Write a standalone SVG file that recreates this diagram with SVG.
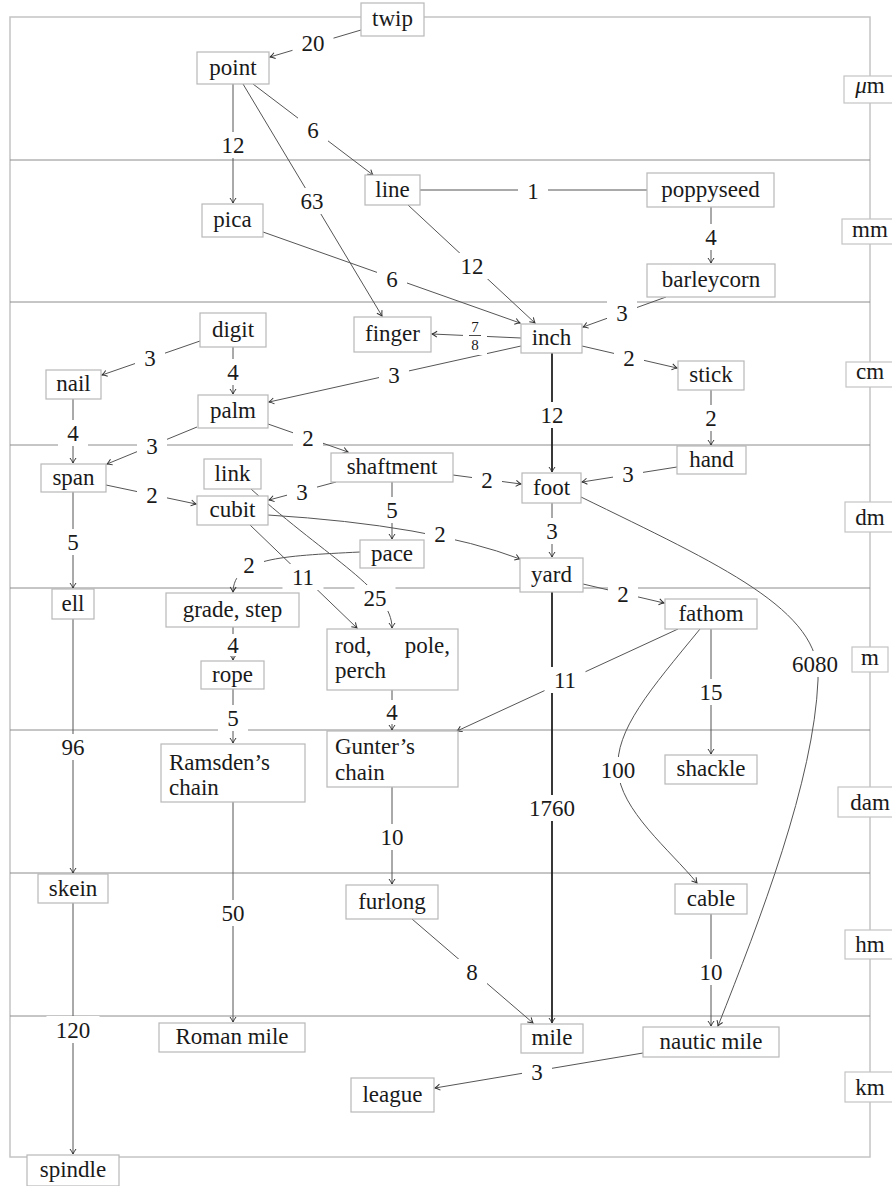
<svg xmlns="http://www.w3.org/2000/svg" width="892" height="1186" viewBox="0 0 892 1186">
<style>
.frame{fill:none;stroke:#c4c4c4;stroke-width:1.5}
.band{stroke:#8c8c8c;stroke-width:1}
.nd rect{fill:#fff;stroke:#b8b8b8;stroke-width:1.2}
.nd text,.lb text,.un text{font-family:"Liberation Serif","DejaVu Serif",serif;font-size:23px;fill:#1a1a1a;text-anchor:middle}
.nd text.l{text-anchor:start}
.nd text.r{text-anchor:end}
.un rect{fill:#fff;stroke:#c4c4c4;stroke-width:1.2}
.e{fill:none;stroke:#555;stroke-width:1;marker-end:url(#arr)}
.e.thick{stroke:#222;stroke-width:1.8}
.e.plain{marker-end:none}
.lb rect{fill:#fff}
</style>
<defs>
<marker id="arr" viewBox="-6 -4 7 8" refX="0" refY="0" markerWidth="7" markerHeight="8" markerUnits="userSpaceOnUse" orient="auto">
<path d="M-5,-3 Q-2,-0.8 0,0 Q-2,0.8 -5,3" fill="none" stroke="#333" stroke-width="1"/>
</marker>
</defs>
<rect width="892" height="1186" fill="#fff"/>
<g id="frame">
<rect class="frame" x="10" y="17" width="860" height="1140"/>
<line class="band" x1="10" y1="160" x2="870" y2="160"/>
<line class="band" x1="10" y1="302" x2="870" y2="302"/>
<line class="band" x1="10" y1="445" x2="870" y2="445"/>
<line class="band" x1="10" y1="588" x2="870" y2="588"/>
<line class="band" x1="10" y1="730" x2="870" y2="730"/>
<line class="band" x1="10" y1="873" x2="870" y2="873"/>
<line class="band" x1="10" y1="1016" x2="870" y2="1016"/>
</g>
<g id="connectors">
<path class="e" d="M361,30 L270,57"/>
<path class="e" d="M233,84 L233,203"/>
<path class="e" d="M253,84 L373,175"/>
<path class="e" d="M243,84 L382,316"/>
<path class="e plain" d="M420,190 L647,190"/>
<path class="e" d="M408,205 L535,323"/>
<path class="e" d="M263,232 L520,323"/>
<path class="e" d="M711,207 L711,263"/>
<path class="e" d="M666,297 L583,327"/>
<path class="e" d="M521,338 L432,334"/>
<path class="e" d="M200,341 L102,375"/>
<path class="e" d="M233,347 L233,394"/>
<path class="e" d="M521,346 L269,402"/>
<path class="e" d="M582,346 L677,368"/>
<path class="e thick" d="M552,353 L552,472"/>
<path class="e" d="M711,390 L711,445"/>
<path class="e" d="M73,399 L73,463"/>
<path class="e" d="M197,427 L107,464"/>
<path class="e" d="M268,424 L348,452"/>
<path class="e" d="M677,467 L582,482"/>
<path class="e" d="M453,475 L521,484"/>
<path class="e" d="M336,482 L269,500"/>
<path class="e" d="M106,485 L196,504"/>
<path class="e" d="M73,492 L73,588"/>
<path class="e" d="M392,482 L392,539"/>
<path class="e" d="M552,503 L552,557"/>
<path class="e" d="M268,515 Q430,525 520,559"/>
<path class="e" d="M581,497 C720,565 822,610 818,680 C814,780 760,920 718,1026"/>
<path class="e" d="M360,552 C280,556 234,558 233,592"/>
<path class="e" d="M250,525 L357,628"/>
<path class="e" d="M251,489 C330,560 392,590 392,628"/>
<path class="e" d="M233,627 L233,660"/>
<path class="e" d="M233,689 L233,743"/>
<path class="e" d="M392,690 L392,730"/>
<path class="e" d="M583,584 L664,603"/>
<path class="e" d="M678,629 L457,731"/>
<path class="e" d="M711,629 L711,754"/>
<path class="e" d="M700,629 C650,690 615,730 618,770 C620,810 670,850 697,883"/>
<path class="e thick" d="M552,592 L552,1023"/>
<path class="e" d="M73,619 L73,873"/>
<path class="e" d="M233,802 L233,1022"/>
<path class="e" d="M392,787 L392,884"/>
<path class="e" d="M73,903 L73,1154"/>
<path class="e" d="M412,919 L533,1023"/>
<path class="e" d="M711,914 L711,1026"/>
<path class="e" d="M643,1053 L435,1088"/>
<g class="lb">
<rect x="292.5" y="30" width="41" height="26"/><text x="313" y="51">20</text>
<rect x="212.5" y="132" width="41" height="26"/><text x="233" y="153">12</text>
<rect x="298" y="117" width="30" height="26"/><text x="313" y="138">6</text>
<rect x="291.5" y="188" width="41" height="26"/><text x="312" y="209">63</text>
<rect x="518" y="178" width="30" height="26"/><text x="533" y="199">1</text>
<rect x="451.5" y="253" width="41" height="26"/><text x="472" y="274">12</text>
<rect x="377" y="266" width="30" height="26"/><text x="392" y="287">6</text>
<rect x="696" y="224" width="30" height="26"/><text x="711" y="245">4</text>
<rect x="607" y="300" width="30" height="26"/><text x="622" y="321">3</text>
<rect x="463" y="319" width="24" height="36"/>
<text x="475" y="332" style="font-size:15px">7</text>
<line x1="469" y1="335.5" x2="481" y2="335.5" stroke="#1a1a1a" stroke-width="0.8"/>
<text x="475" y="350" style="font-size:15px">8</text>
<rect x="135" y="345" width="30" height="26"/><text x="150" y="366">3</text>
<rect x="218" y="359" width="30" height="26"/><text x="233" y="380">4</text>
<rect x="379" y="362" width="30" height="26"/><text x="394" y="383">3</text>
<rect x="614" y="345" width="30" height="26"/><text x="629" y="366">2</text>
<rect x="531.5" y="402" width="41" height="26"/><text x="552" y="423">12</text>
<rect x="696" y="405" width="30" height="26"/><text x="711" y="426">2</text>
<rect x="58" y="420" width="30" height="26"/><text x="73" y="441">4</text>
<rect x="137" y="433" width="30" height="26"/><text x="152" y="454">3</text>
<rect x="293" y="425" width="30" height="26"/><text x="308" y="446">2</text>
<rect x="613" y="461" width="30" height="26"/><text x="628" y="482">3</text>
<rect x="472" y="467" width="30" height="26"/><text x="487" y="488">2</text>
<rect x="287" y="479" width="30" height="26"/><text x="302" y="500">3</text>
<rect x="137" y="482" width="30" height="26"/><text x="152" y="503">2</text>
<rect x="58" y="529" width="30" height="26"/><text x="73" y="550">5</text>
<rect x="377" y="497" width="30" height="26"/><text x="392" y="518">5</text>
<rect x="537" y="518" width="30" height="26"/><text x="552" y="539">3</text>
<rect x="425" y="521" width="30" height="26"/><text x="440" y="542">2</text>
<rect x="783" y="651" width="64" height="26"/><text x="815" y="672">6080</text>
<rect x="234" y="552" width="30" height="26"/><text x="249" y="573">2</text>
<rect x="282.5" y="564" width="41" height="26"/><text x="303" y="585">11</text>
<rect x="354.5" y="585" width="41" height="26"/><text x="375" y="606">25</text>
<rect x="218" y="634" width="30" height="22"/><text x="233" y="653">4</text>
<rect x="218" y="705" width="30" height="26"/><text x="233" y="726">5</text>
<rect x="377" y="700" width="30" height="24"/><text x="392" y="720">4</text>
<rect x="608" y="581" width="30" height="26"/><text x="623" y="602">2</text>
<rect x="544.5" y="667" width="41" height="26"/><text x="565" y="688">11</text>
<rect x="690.5" y="679" width="41" height="26"/><text x="711" y="700">15</text>
<rect x="591.5" y="757" width="53" height="26"/><text x="618" y="778">100</text>
<rect x="520" y="795" width="64" height="26"/><text x="552" y="816">1760</text>
<rect x="52.5" y="734" width="41" height="26"/><text x="73" y="755">96</text>
<rect x="212.5" y="900" width="41" height="26"/><text x="233" y="921">50</text>
<rect x="371.5" y="824" width="41" height="26"/><text x="392" y="845">10</text>
<rect x="46.5" y="1016" width="53" height="27"/><text x="73" y="1038">120</text>
<rect x="457" y="959" width="30" height="26"/><text x="472" y="980">8</text>
<rect x="690.5" y="959" width="41" height="26"/><text x="711" y="980">10</text>
<rect x="522" y="1059" width="30" height="26"/><text x="537" y="1080">3</text>
</g>
</g>
<g id="n-twip" class="nd"><rect x="361" y="3" width="63" height="33"/><text x="392.5" y="26">twip</text></g>
<g id="n-point" class="nd"><rect x="197" y="52" width="72" height="32"/><text x="233" y="74.5">point</text></g>
<g id="n-pica" class="nd"><rect x="202" y="204" width="61" height="33"/><text x="232.5" y="227">pica</text></g>
<g id="n-line" class="nd"><rect x="365" y="175" width="55" height="30"/><text x="392.5" y="196.5">line</text></g>
<g id="n-poppyseed" class="nd"><rect x="647" y="173" width="127" height="34"/><text x="710.5" y="196.5">poppyseed</text></g>
<g id="n-barleycorn" class="nd"><rect x="647" y="264" width="128" height="33"/><text x="711" y="287">barleycorn</text></g>
<g id="n-digit" class="nd"><rect x="200" y="313" width="66" height="34"/><text x="233" y="336.5">digit</text></g>
<g id="n-finger" class="nd"><rect x="354" y="317" width="77" height="35"/><text x="392.5" y="341">finger</text></g>
<g id="n-inch" class="nd"><rect x="521" y="324" width="61" height="29"/><text x="551.5" y="345">inch</text></g>
<g id="n-nail" class="nd"><rect x="46" y="370" width="55" height="29"/><text x="73.5" y="391">nail</text></g>
<g id="n-palm" class="nd"><rect x="198" y="395" width="70" height="33"/><text x="233" y="418">palm</text></g>
<g id="n-stick" class="nd"><rect x="678" y="361" width="66" height="29"/><text x="711" y="382">stick</text></g>
<g id="n-hand" class="nd"><rect x="677" y="446" width="69" height="28"/><text x="711.5" y="466.5">hand</text></g>
<g id="n-link" class="nd"><rect x="204" y="459" width="57" height="30"/><text x="232.5" y="480.5">link</text></g>
<g id="n-shaftment" class="nd"><rect x="331" y="453" width="122" height="29"/><text x="392" y="474">shaftment</text></g>
<g id="n-span" class="nd"><rect x="41" y="464" width="65" height="28"/><text x="73.5" y="484.5">span</text></g>
<g id="n-foot" class="nd"><rect x="522" y="473" width="59" height="30"/><text x="551.5" y="494.5">foot</text></g>
<g id="n-cubit" class="nd"><rect x="197" y="496" width="71" height="29"/><text x="232.5" y="517">cubit</text></g>
<g id="n-pace" class="nd"><rect x="360" y="540" width="64" height="28"/><text x="392" y="560.5">pace</text></g>
<g id="n-yard" class="nd"><rect x="520" y="558" width="63" height="34"/><text x="551.5" y="581.5">yard</text></g>
<g id="n-ell" class="nd"><rect x="52" y="589" width="42" height="30"/><text x="73" y="610.5">ell</text></g>
<g id="n-grade" class="nd"><rect x="166" y="593" width="133" height="34"/><text x="232.5" y="616.5">grade, step</text></g>
<g id="n-fathom" class="nd"><rect x="665" y="599" width="92" height="30"/><text x="711" y="620.5">fathom</text></g>
<g id="n-rope" class="nd"><rect x="201" y="661" width="63" height="28"/><text x="232.5" y="681.5">rope</text></g>
<g id="n-rod" class="nd"><rect x="327" y="629" width="131" height="61"/><text class="l" x="335" y="653">rod,</text><text class="r" x="450" y="653">pole,</text><text class="l" x="335" y="678">perch</text></g>
<g id="n-ramsden" class="nd"><rect x="161" y="744" width="144" height="58"/><text class="l" x="169" y="770">Ramsden’s</text><text class="l" x="169" y="795">chain</text></g>
<g id="n-gunter" class="nd"><rect x="327" y="731" width="131" height="56"/><text class="l" x="335" y="754">Gunter’s</text><text class="l" x="335" y="780">chain</text></g>
<g id="n-shackle" class="nd"><rect x="665" y="755" width="92" height="29"/><text x="711" y="776">shackle</text></g>
<g id="n-skein" class="nd"><rect x="38" y="874" width="70" height="29"/><text x="73" y="896">skein</text></g>
<g id="n-furlong" class="nd"><rect x="346" y="885" width="92" height="34"/><text x="392" y="908.5">furlong</text></g>
<g id="n-cable" class="nd"><rect x="675" y="884" width="72" height="30"/><text x="711" y="905.5">cable</text></g>
<g id="n-romanmile" class="nd"><rect x="159" y="1023" width="146" height="29"/><text x="232" y="1044">Roman mile</text></g>
<g id="n-mile" class="nd"><rect x="521" y="1024" width="62" height="29"/><text x="552" y="1045">mile</text></g>
<g id="n-nauticmile" class="nd"><rect x="643" y="1027" width="136" height="30"/><text x="711" y="1048.5">nautic mile</text></g>
<g id="n-league" class="nd"><rect x="351" y="1078" width="83" height="34"/><text x="392.5" y="1101.5">league</text></g>
<g id="n-spindle" class="nd"><rect x="27" y="1155" width="92" height="31"/><text x="73" y="1177">spindle</text></g>
<g id="units" class="un">
<g id="u-um"><rect x="844" y="76" width="52" height="27"/><text x="870" y="93"><tspan font-style="italic">μ</tspan>m</text></g>
<g id="u-mm"><rect x="842" y="219" width="56" height="25"/><text x="870" y="237">mm</text></g>
<g id="u-cm"><rect x="846" y="362" width="48" height="25"/><text x="870" y="379">cm</text></g>
<g id="u-dm"><rect x="845" y="502" width="50" height="30"/><text x="870" y="525">dm</text></g>
<g id="u-m"><rect x="852" y="647" width="36" height="25"/><text x="870" y="665">m</text></g>
<g id="u-dam"><rect x="838" y="787" width="64" height="30"/><text x="870" y="810">dam</text></g>
<g id="u-hm"><rect x="845" y="930" width="50" height="29"/><text x="870" y="952">hm</text></g>
<g id="u-km"><rect x="845" y="1072" width="50" height="30"/><text x="870" y="1095">km</text></g>
</g>
</svg>
